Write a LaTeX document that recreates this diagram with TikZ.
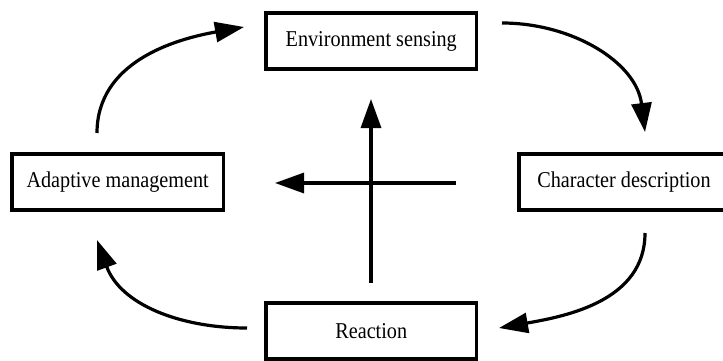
\documentclass[tikz,border=0pt]{standalone}
\usepackage{fontspec}
\usepackage{graphicx}
\setmainfont{Liberation Serif}
\usetikzlibrary{arrows.meta}
\newcommand\stretchtxt[1]{\scalebox{1}[1.12]{#1}}
\begin{document}
\begin{tikzpicture}[x=1pt,y=1pt,
  box/.style={draw,line width=3.6pt,minimum height=56pt,inner sep=0pt,font=\fontsize{20.2}{24}\selectfont},
  arr/.style={line width=3.2pt,-{Triangle[length=29pt,width=20pt]}}]
\useasboundingbox (0,0) rectangle (723,360);
\clip (0,0) rectangle (723,360);
\node[box,minimum width=210.5pt] (env) at (371.25,319) {\stretchtxt{Environment sensing}};
\node[box,minimum width=211.3pt] (adapt) at (117.65,178) {\stretchtxt{Adaptive management}};
\node[box,minimum width=210pt] (char) at (624,178) {\stretchtxt{Character description}};
\node[box,minimum width=210.5pt] (react) at (371.25,29.3) {\stretchtxt{Reaction}};
\coordinate (tls) at (97,227);  \coordinate (tle) at (244,333);
\coordinate (trs) at (502,337); \coordinate (tre) at (645,228);
\coordinate (brs) at (645,127); \coordinate (bre) at (499,32);
\coordinate (bls) at (247,32);  \coordinate (ble) at (97,120);
\coordinate (vs) at (371,77);   \coordinate (ve) at (371,261);
\coordinate (hs) at (456,177);  \coordinate (he) at (275,177);
\draw[arr] (tls) to[out=90,in=190] (tle);
\draw[arr] (trs) to[out=0,in=97] (tre);
\draw[arr] (brs) to[out=-90,in=10] (bre);
\draw[arr] (bls) to[out=180,in=-70] (ble);
\draw[arr] (vs) -- (ve);
\draw[arr] (hs) -- (he);
\end{tikzpicture}
\end{document}
